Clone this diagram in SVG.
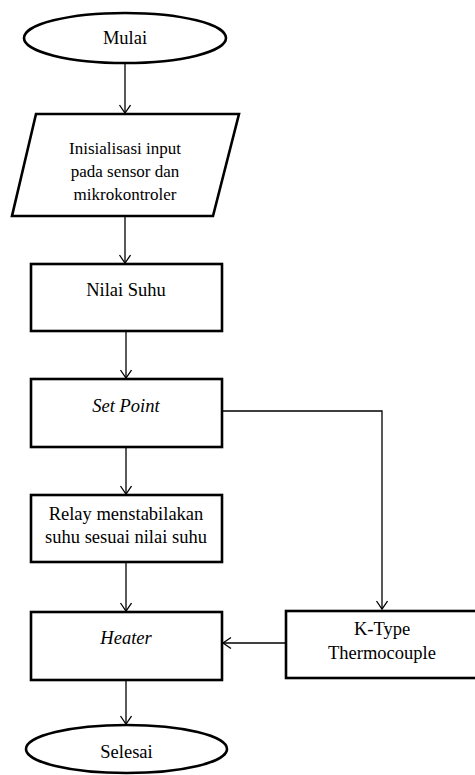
<svg xmlns="http://www.w3.org/2000/svg" width="475" height="775" viewBox="0 0 475 775">
<style>
.shape{fill:#fff;stroke:#000;stroke-width:2.6}
.conn{fill:none;stroke:#000;stroke-width:1.3}
text{font-family:"Liberation Serif","Times New Roman",serif;font-size:18.5px;fill:#000;text-anchor:middle}
.sm{font-size:17px}
.it{font-style:italic}
</style>
<defs>
<marker id="arr" markerUnits="userSpaceOnUse" markerWidth="14" markerHeight="14" refX="9" refY="6" orient="auto">
<path d="M1,0.5 L9,6 L1,11.5" fill="none" stroke="#000" stroke-width="1.3"/>
</marker>
</defs>
<g id="connectors">
<line class="conn" x1="125" y1="63" x2="125" y2="113" marker-end="url(#arr)"/>
<line class="conn" x1="125" y1="217" x2="125" y2="263" marker-end="url(#arr)"/>
<line class="conn" x1="126" y1="331" x2="126" y2="378" marker-end="url(#arr)"/>
<line class="conn" x1="126" y1="447" x2="126" y2="494" marker-end="url(#arr)"/>
<line class="conn" x1="126" y1="562" x2="126" y2="611" marker-end="url(#arr)"/>
<line class="conn" x1="126" y1="680" x2="126" y2="724" marker-end="url(#arr)"/>
<polyline class="conn" points="222,411 382,411 382,609" marker-end="url(#arr)"/>
<line class="conn" x1="286" y1="643" x2="223" y2="643" marker-end="url(#arr)"/>
</g>
<g id="mulai">
<ellipse class="shape" cx="125" cy="38" rx="101" ry="25"/>
<text x="125" y="44">Mulai</text>
</g>
<g id="inisialisasi">
<polygon class="shape" points="36,114 239,114 213,216 12,216"/>
<text class="sm" x="125" y="154">Inisialisasi input</text>
<text class="sm" x="125" y="177">pada sensor dan</text>
<text class="sm" x="125" y="200">mikrokontroler</text>
</g>
<g id="nilai-suhu">
<rect class="shape" x="31" y="264" width="191" height="67"/>
<text x="126" y="296">Nilai Suhu</text>
</g>
<g id="set-point">
<rect class="shape" x="31" y="379" width="191" height="68"/>
<text class="it" x="126" y="412">Set Point</text>
</g>
<g id="relay">
<rect class="shape" x="31" y="495" width="191" height="67"/>
<text x="126" y="520">Relay menstabilakan</text>
<text x="126" y="543">suhu sesuai nilai suhu</text>
</g>
<g id="heater">
<rect class="shape" x="31" y="612" width="191" height="68"/>
<text class="it" x="126" y="644">Heater</text>
</g>
<g id="thermocouple">
<rect class="shape" x="286" y="611" width="200" height="67"/>
<text x="382" y="635">K-Type</text>
<text x="382" y="659">Thermocouple</text>
</g>
<g id="selesai">
<ellipse class="shape" cx="126.5" cy="749" rx="100.5" ry="24"/>
<text x="126.5" y="758">Selesai</text>
</g>
</svg>
